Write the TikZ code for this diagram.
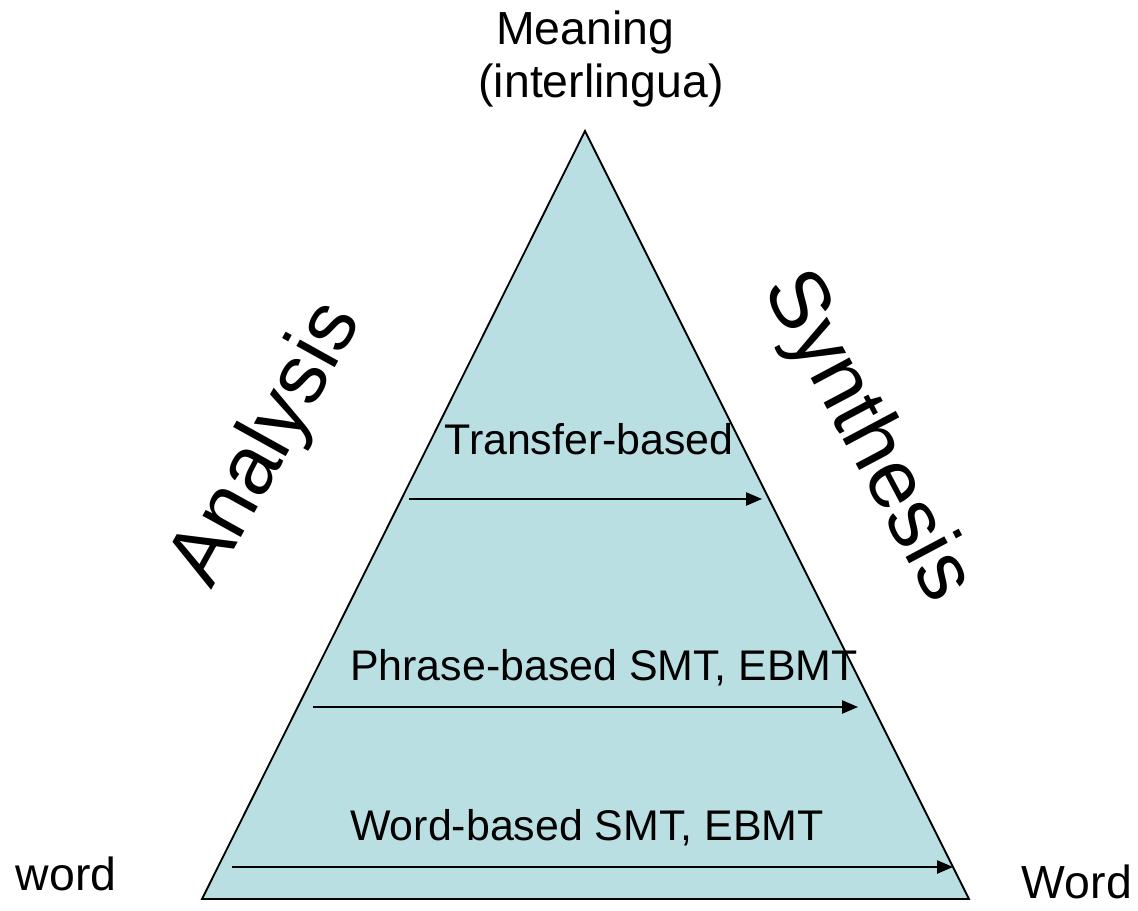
\documentclass[tikz,border=0pt]{standalone}
\usepackage{fontspec}
\setmainfont{Liberation Sans}
\usetikzlibrary{arrows.meta}
\definecolor{pyrfill}{RGB}{185,223,227}
\tikzset{
  lbl/.style={inner sep=0pt, font=\fontsize{30.5}{36}\selectfont},
  toplbl/.style={inner sep=0pt, font=\fontsize{33}{38}\selectfont},
  biglbl/.style={inner sep=0pt, font=\fontsize{59}{70}\selectfont},
  mtarrow/.style={-{Triangle[length=0.4cm, width=0.33cm]}, line width=1.3pt}
}
\begin{document}
\begin{tikzpicture}[x=0.025cm, y=-0.025cm]
  \useasboundingbox (0,0) rectangle (1138,911);
  % Pyramid
  \coordinate (apex) at (585,131);
  \coordinate (bl) at (202,899);
  \coordinate (br) at (969,899);
  \filldraw[fill=pyrfill, line width=1.3pt] (apex) -- (bl) -- (br) -- cycle;
  % Top and corners
  \node[toplbl, anchor=base] (meaning) at (585,45) {Meaning};
  \node[toplbl, anchor=base] (inter) at (601,98) {(interlingua)};
  \node[toplbl, anchor=base] (src) at (66,890) {word};
  \node[toplbl, anchor=base] (tgt) at (1077,898) {Word};
  % Sides
  \node[biglbl, rotate=61] (analysis) at (268,445) {Analysis};
  \node[biglbl, rotate=-62] (synthesis) at (866,437) {Synthesis};
  % Levels
  \node[lbl, anchor=base] (transfer) at (589,454) {Transfer-based};
  \node[lbl, anchor=base] (phrase) at (604,680) {Phrase-based SMT, EBMT};
  \node[lbl, anchor=base] (wordb) at (587,840) {Word-based SMT, EBMT};
  \coordinate (t1) at (409,499);  \coordinate (t2) at (762,499);
  \coordinate (p1) at (313,707);  \coordinate (p2) at (858,707);
  \coordinate (w1) at (232,867);  \coordinate (w2) at (953,867);
  \draw[mtarrow] (t1) -- (t2);
  \draw[mtarrow] (p1) -- (p2);
  \draw[mtarrow] (w1) -- (w2);
\end{tikzpicture}
\end{document}
